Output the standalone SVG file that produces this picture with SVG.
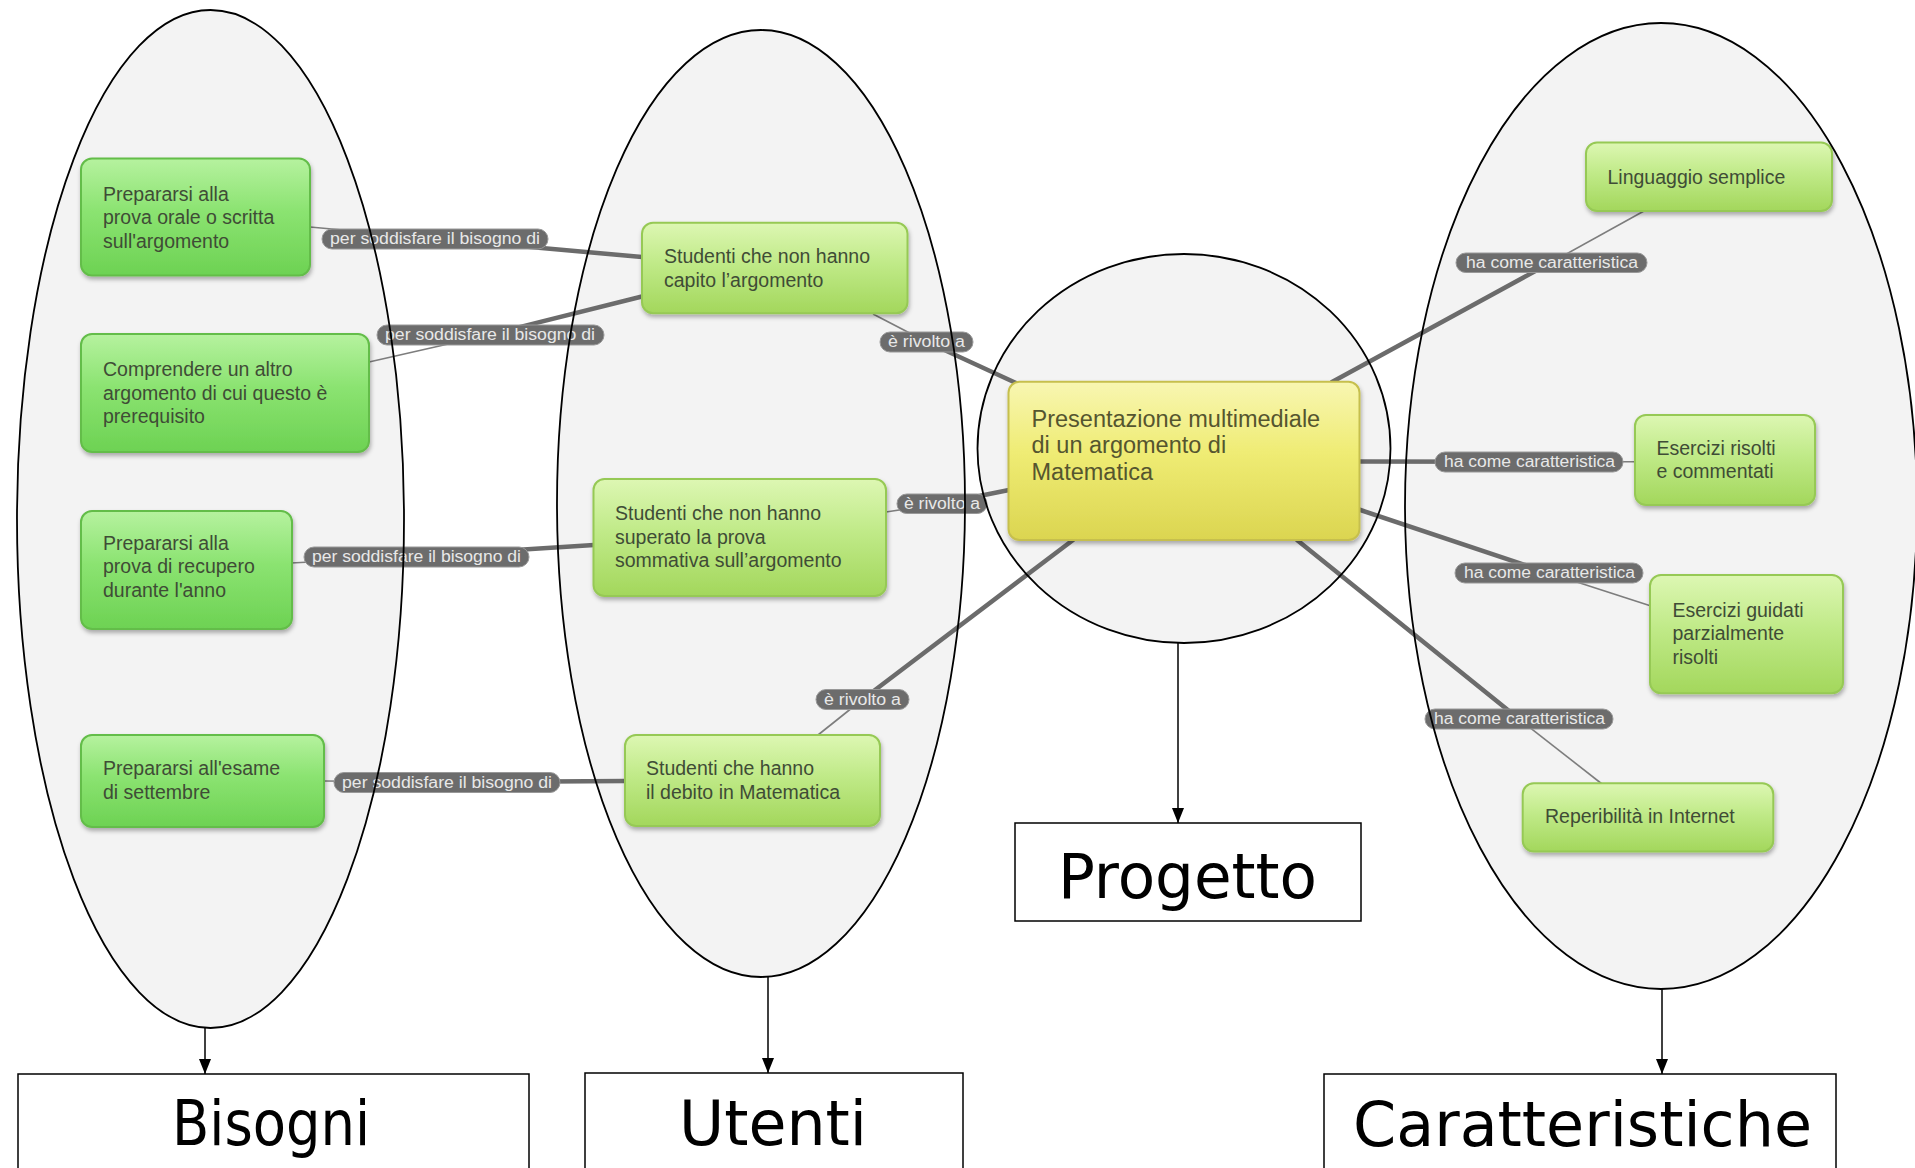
<svg xmlns="http://www.w3.org/2000/svg" width="1915" height="1168" viewBox="0 0 1915 1168">
<style>
.bg{fill:#ffffff}
.ellf{fill:#f3f3f3;stroke:none}
.ell{fill:none;stroke:#000;stroke-width:1.8}
.box{fill:#fff;stroke:#000;stroke-width:1.5}
.big{font-family:'DejaVu Sans',sans-serif;font-size:62px;text-anchor:middle;fill:#000}
.arr{stroke:#000;stroke-width:1.5;fill:none}
.thin{stroke:#7d7d7d;stroke-width:1.6;fill:none}
.thick{stroke:#6b6b6b;stroke-width:4.5;fill:none;stroke-linecap:round}
.pill{fill:#6c6c6c;stroke:#989898;stroke-width:1}
.pt{font-family:'Liberation Sans',Arial,sans-serif;font-size:16px;fill:#e8e8e8}
.green{fill:url(#gGreen);stroke:#63bd49;stroke-width:2;filter:url(#sh)}
.lime{fill:url(#gLime);stroke:#96c954;stroke-width:2;filter:url(#sh)}
.yel{fill:url(#gYel);stroke:#c6bf4e;stroke-width:2;filter:url(#sh)}
.n{font-family:'Liberation Sans',Arial,sans-serif;font-size:19.5px;fill:#3f4c36}
.nc{font-family:'Liberation Sans',Arial,sans-serif;font-size:23.5px;fill:#55552f}
</style>
<defs>
<linearGradient id="gGreen" x1="0" y1="0" x2="0" y2="1">
<stop offset="0" stop-color="#b6f29f"/>
<stop offset="0.45" stop-color="#8be371"/>
<stop offset="1" stop-color="#6dd253"/>
</linearGradient>
<linearGradient id="gLime" x1="0" y1="0" x2="0" y2="1">
<stop offset="0" stop-color="#ddf7b3"/>
<stop offset="0.45" stop-color="#c0ea88"/>
<stop offset="1" stop-color="#a3d75c"/>
</linearGradient>
<linearGradient id="gYel" x1="0" y1="0" x2="0" y2="1">
<stop offset="0" stop-color="#f8f6b2"/>
<stop offset="0.45" stop-color="#efec74"/>
<stop offset="1" stop-color="#dbd550"/>
</linearGradient>
<filter id="sh" x="-10%" y="-10%" width="120%" height="130%">
<feDropShadow dx="1" dy="3" stdDeviation="2" flood-color="#000" flood-opacity="0.3"/>
</filter>
<marker id="ah" markerUnits="userSpaceOnUse" markerWidth="15" markerHeight="12" refX="15" refY="6" orient="auto">
<path d="M0,0 L15,6 L0,12 z" fill="#000"/>
</marker>
</defs>
<rect class="bg" x="0" y="0" width="1915" height="1168"/>

<g id="region-fills">
<ellipse class="ellf" cx="210.5" cy="519" rx="193.5" ry="509"/>
<ellipse class="ellf" cx="761" cy="503.5" rx="204" ry="473.5"/>
<ellipse class="ellf" cx="1184" cy="448.5" rx="206.5" ry="194.5"/>
<ellipse class="ellf" cx="1661" cy="506" rx="256" ry="483"/>
</g>

<g id="connectors">
<path class="thin" d="M310,227 L435,238.5"/>
<path class="thick" d="M435,238.5 L642,257"/>
<path class="thin" d="M369,362 L490,334.5"/>
<path class="thick" d="M490,334.5 L642,296.5"/>
<path class="thin" d="M291,563 L416.5,556.5"/>
<path class="thick" d="M416.5,556.5 L594,545"/>
<path class="thin" d="M324,781 L447,782"/>
<path class="thick" d="M447,782 L626,781"/>
<path class="thin" d="M873,314 L926,341.5"/>
<path class="thick" d="M926,341.5 L1016,383"/>
<path class="thin" d="M886,512 L942,503.5"/>
<path class="thick" d="M942,503.5 L1009,490"/>
<path class="thin" d="M818,735 L862.5,699.5"/>
<path class="thick" d="M862.5,699.5 L1073,540"/>
<path class="thick" d="M1332,382 L1551,262.5"/>
<path class="thin" d="M1551,262.5 L1644,211"/>
<path class="thick" d="M1359,461.5 L1529,461.7"/>
<path class="thin" d="M1529,461.7 L1635,461.7"/>
<path class="thick" d="M1359,509.5 L1549,573"/>
<path class="thin" d="M1549,573 L1651,606"/>
<path class="thick" d="M1297,540 L1519,719"/>
<path class="thin" d="M1519,719 L1602,784"/>
<line class="arr" x1="205" y1="1027" x2="205" y2="1074" marker-end="url(#ah)"/>
<line class="arr" x1="768" y1="976" x2="768" y2="1073" marker-end="url(#ah)"/>
<line class="arr" x1="1178" y1="643" x2="1178" y2="823" marker-end="url(#ah)"/>
<line class="arr" x1="1662" y1="989" x2="1662" y2="1074" marker-end="url(#ah)"/>
</g>

<g id="connector-labels">
<rect class="pill" x="322" y="229" width="226" height="20" rx="10"/>
<text class="pt" x="330" y="244" textLength="210" lengthAdjust="spacingAndGlyphs">per soddisfare il bisogno di</text>
<rect class="pill" x="377" y="325" width="227" height="20" rx="10"/>
<text class="pt" x="385" y="340" textLength="210" lengthAdjust="spacingAndGlyphs">per soddisfare il bisogno di</text>
<rect class="pill" x="304" y="547" width="225" height="20" rx="10"/>
<text class="pt" x="312" y="562" textLength="209" lengthAdjust="spacingAndGlyphs">per soddisfare il bisogno di</text>
<rect class="pill" x="334" y="772.5" width="226" height="20" rx="10"/>
<text class="pt" x="342" y="787.5" textLength="210" lengthAdjust="spacingAndGlyphs">per soddisfare il bisogno di</text>
<rect class="pill" x="880" y="332" width="93" height="20" rx="10"/>
<text class="pt" x="888" y="347" textLength="77" lengthAdjust="spacingAndGlyphs">è rivolto a</text>
<rect class="pill" x="897" y="494" width="90" height="19.5" rx="9.75"/>
<text class="pt" x="904" y="508.5" textLength="76" lengthAdjust="spacingAndGlyphs">è rivolto a</text>
<rect class="pill" x="816" y="689.5" width="93" height="20" rx="10"/>
<text class="pt" x="824" y="704.5" textLength="77" lengthAdjust="spacingAndGlyphs">è rivolto a</text>
<rect class="pill" x="1456" y="253" width="191" height="19.5" rx="9.75"/>
<text class="pt" x="1466" y="267.5" textLength="172" lengthAdjust="spacingAndGlyphs">ha come caratteristica</text>
<rect class="pill" x="1435" y="452" width="188" height="20" rx="10"/>
<text class="pt" x="1444" y="467" textLength="171" lengthAdjust="spacingAndGlyphs">ha come caratteristica</text>
<rect class="pill" x="1455" y="563" width="188" height="20" rx="10"/>
<text class="pt" x="1464" y="578" textLength="171" lengthAdjust="spacingAndGlyphs">ha come caratteristica</text>
<rect class="pill" x="1425" y="709" width="188" height="20" rx="10"/>
<text class="pt" x="1434" y="724" textLength="171" lengthAdjust="spacingAndGlyphs">ha come caratteristica</text>
</g>

<g id="node-prova-orale">
<rect class="green" x="81" y="158.5" width="229" height="117" rx="11"/>
<text class="n" x="103"><tspan x="103" y="200.5">Prepararsi alla</tspan><tspan x="103" y="224">prova orale o scritta</tspan><tspan x="103" y="247.5">sull'argomento</tspan></text>
</g>
<g id="node-comprendere">
<rect class="green" x="81" y="334" width="288" height="118" rx="11"/>
<text class="n" x="103"><tspan x="103" y="376">Comprendere un altro</tspan><tspan x="103" y="399.5">argomento di cui questo è</tspan><tspan x="103" y="423">prerequisito</tspan></text>
</g>
<g id="node-recupero">
<rect class="green" x="81" y="511" width="211" height="118" rx="11"/>
<text class="n" x="103"><tspan x="103" y="549.5">Prepararsi alla</tspan><tspan x="103" y="573">prova di recupero</tspan><tspan x="103" y="596.5">durante l'anno</tspan></text>
</g>
<g id="node-esame">
<rect class="green" x="81" y="735" width="243" height="92" rx="11"/>
<text class="n" x="103"><tspan x="103" y="775">Prepararsi all'esame</tspan><tspan x="103" y="798.5">di settembre</tspan></text>
</g>

<g id="node-non-capito">
<rect class="lime" x="642" y="222.7" width="265.5" height="90.6" rx="11"/>
<text class="n" x="664"><tspan x="664" y="263">Studenti che non hanno</tspan><tspan x="664" y="287">capito l’argomento</tspan></text>
</g>
<g id="node-non-superato">
<rect class="lime" x="593.5" y="479" width="292.5" height="117" rx="11"/>
<text class="n" x="615"><tspan x="615" y="520">Studenti che non hanno</tspan><tspan x="615" y="543.5">superato la prova</tspan><tspan x="615" y="567">sommativa sull’argomento</tspan></text>
</g>
<g id="node-debito">
<rect class="lime" x="625" y="735" width="255" height="91" rx="11"/>
<text class="n" x="646"><tspan x="646" y="775">Studenti che hanno</tspan><tspan x="646" y="798.5">il debito in Matematica</tspan></text>
</g>

<g id="node-presentazione">
<rect class="yel" x="1008.5" y="381.7" width="351" height="158.3" rx="11"/>
<text class="nc" x="1031.5"><tspan x="1031.5" y="426.7">Presentazione multimediale</tspan><tspan x="1031.5" y="453.3">di un argomento di</tspan><tspan x="1031.5" y="480">Matematica</tspan></text>
</g>

<g id="node-linguaggio">
<rect class="lime" x="1586" y="142.5" width="246" height="68.5" rx="11"/>
<text class="n" x="1607.5" y="183.5">Linguaggio semplice</text>
</g>
<g id="node-risolti">
<rect class="lime" x="1635" y="415" width="180" height="90" rx="11"/>
<text class="n" x="1656.5"><tspan x="1656.5" y="454.5">Esercizi risolti</tspan><tspan x="1656.5" y="478">e commentati</tspan></text>
</g>
<g id="node-guidati">
<rect class="lime" x="1650" y="575" width="193" height="118.3" rx="11"/>
<text class="n" x="1672.5"><tspan x="1672.5" y="616.5">Esercizi guidati</tspan><tspan x="1672.5" y="640">parzialmente</tspan><tspan x="1672.5" y="663.5">risolti</tspan></text>
</g>
<g id="node-reperibilita">
<rect class="lime" x="1522.7" y="783.3" width="250.6" height="68.2" rx="11"/>
<text class="n" x="1545" y="823">Reperibilità in Internet</text>
</g>

<g id="region-outlines">
<ellipse class="ell" cx="210.5" cy="519" rx="193.5" ry="509"/>
<ellipse class="ell" cx="761" cy="503.5" rx="204" ry="473.5"/>
<ellipse class="ell" cx="1184" cy="448.5" rx="206.5" ry="194.5"/>
<ellipse class="ell" cx="1661" cy="506" rx="256" ry="483"/>
</g>

<g id="node-bisogni">
<rect class="box" x="18" y="1074" width="511" height="140"/>
<text class="big" x="271" y="1145" textLength="198" lengthAdjust="spacingAndGlyphs">Bisogni</text>
</g>
<g id="node-utenti">
<rect class="box" x="585" y="1073" width="378" height="140"/>
<text class="big" x="773" y="1145" textLength="188" lengthAdjust="spacingAndGlyphs">Utenti</text>
</g>
<g id="node-progetto">
<rect class="box" x="1015" y="823" width="346" height="98"/>
<text class="big" x="1187.5" y="898" textLength="259" lengthAdjust="spacingAndGlyphs">Progetto</text>
</g>
<g id="node-caratteristiche">
<rect class="box" x="1324" y="1074" width="512" height="140"/>
<text class="big" x="1582.5" y="1146" textLength="459" lengthAdjust="spacingAndGlyphs">Caratteristiche</text>
</g>
</svg>
